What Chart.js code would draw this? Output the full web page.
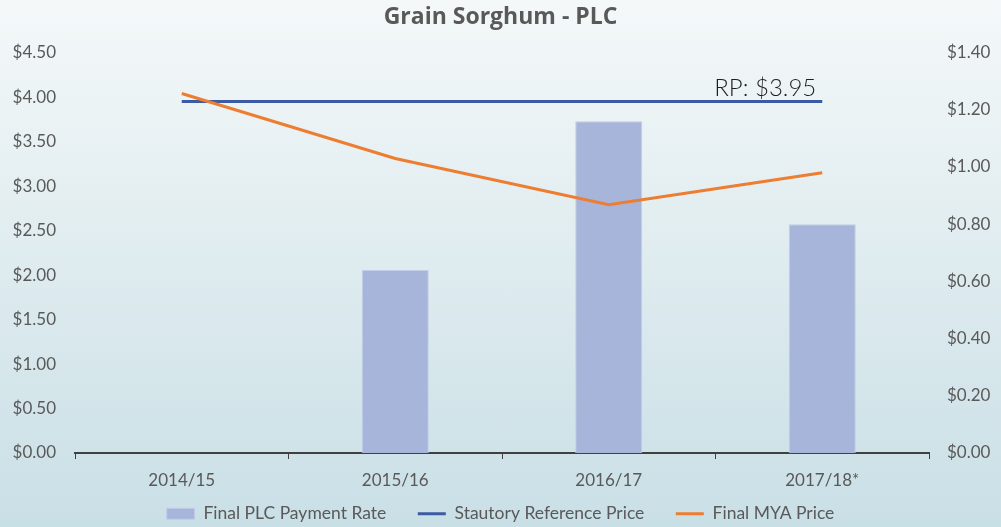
<!DOCTYPE html>
<html>
<head>
<meta charset="utf-8">
<script src="https://cdn.jsdelivr.net/npm/chart.js@4.4.1/dist/chart.umd.min.js"></script>
<style>
  html, body { margin: 0; padding: 0; }
  body {
    width: 1001px; height: 527px; overflow: hidden;
    background: linear-gradient(to bottom, #f4f8f9 0%, #e3eef1 40%, #c9dfe6 100%);
  }
  #wrap { position: relative; width: 1001px; height: 527px; }
</style>
</head>
<body>
<div id="wrap"><canvas id="chart"></canvas></div>
<script>
  // ── Data ───────────────────────────────────────────────
  const years       = ['2014/15', '2015/16', '2016/17', '2017/18*'];
  const paymentRate = [null, 0.64, 1.16, 0.80];   // right axis
  const refPrice    = [3.95, 3.95, 3.95, 3.95];   // left axis
  const myaPrice    = [4.04, 3.31, 2.79, 3.15];   // left axis
  const refLabel    = 'RP: $3.95';

  const TXT    = '#595959';
  const BLUE   = '#3b5ba5';
  const ORANGE = '#ed7d31';
  const BAR    = '#a7b5da';
  const FONT   = "Lato, 'Open Sans', sans-serif";

  Chart.defaults.font.family = FONT;
  Chart.defaults.color = TXT;

  // label "RP: $3.95" over the end of the reference line
  const rpLabel = {
    id: 'rpLabel',
    afterDatasetsDraw(chart) {
      const meta = chart.getDatasetMeta(1);
      const pt = meta.data[meta.data.length - 1];
      if (!pt) return;
      const ctx = chart.ctx;
      ctx.save();
      ctx.font = '300 24px ' + FONT;
      ctx.fillStyle = '#1e1e1e';
      ctx.textAlign = 'right';
      ctx.textBaseline = 'alphabetic';
      ctx.fillText(refLabel, pt.x - 6, pt.y - 6);
      ctx.restore();
    }
  };

  // default legend items, with a bit of extra room after the first two
  const legendItems = chart => {
    const items = Chart.defaults.plugins.legend.labels.generateLabels(chart);
    items.forEach(it => {
      if (it.datasetIndex < 2) it.text = it.text + '\u2002\u2002';
    });
    return items;
  };

  new Chart(document.getElementById('chart'), {
    type: 'bar',
    data: {
      labels: years,
      datasets: [
        {
          type: 'bar',
          label: 'Final PLC Payment Rate',
          data: paymentRate,
          yAxisID: 'y1',
          backgroundColor: BAR,
          borderColor: '#c3cde8',
          borderWidth: 1,
          barPercentage: 0.314,
          categoryPercentage: 1,
          pointStyle: 'rect',
          order: 3
        },
        {
          type: 'line',
          label: 'Stautory Reference Price',
          data: refPrice,
          yAxisID: 'y',
          borderColor: BLUE,
          backgroundColor: BLUE,
          borderWidth: 3,
          pointRadius: 0,
          pointStyle: 'line',
          order: 2
        },
        {
          type: 'line',
          label: 'Final MYA Price',
          data: myaPrice,
          yAxisID: 'y',
          borderColor: ORANGE,
          backgroundColor: ORANGE,
          borderWidth: 3,
          pointRadius: 0,
          pointStyle: 'line',
          order: 1
        }
      ]
    },
    options: {
      responsive: true,
      maintainAspectRatio: false,
      animation: false,
      layout: { padding: 0 },
      scales: {
        x: {
          offset: true,
          grid: { display: true, offset: true, drawOnChartArea: false, color: '#404040', tickLength: 6, lineWidth: 1 },
          border: { display: true, color: '#404040', width: 2 },
          ticks: { color: TXT, font: { size: 17 }, padding: 11 },
          afterFit: s => { s.height = 38; }
        },
        y: {
          position: 'left',
          min: 0, max: 4.5,
          grid: { display: false },
          border: { display: false },
          ticks: {
            stepSize: 0.5, color: TXT, font: { size: 17 }, padding: 11,
            callback: v => '$' + v.toFixed(2)
          },
          afterFit: s => { s.width = 75; }
        },
        y1: {
          position: 'right',
          min: 0, max: 1.4,
          grid: { display: false },
          border: { display: false },
          ticks: {
            stepSize: 0.2, color: TXT, font: { size: 17 }, padding: 10,
            callback: v => '$' + v.toFixed(2)
          },
          afterFit: s => { s.width = 72; }
        }
      },
      plugins: {
        title: {
          display: true,
          text: 'Grain Sorghum - PLC',
          color: TXT,
          font: { family: "'Open Sans', sans-serif", size: 23, weight: 'bold' },
          padding: { top: 4, bottom: 21 }
        },
        legend: {
          display: true,
          position: 'bottom',
          maxHeight: 36,
          labels: {
            color: TXT,
            font: { size: 17.5 },
            usePointStyle: true,
            pointStyleWidth: 28,
            boxHeight: 11,
            padding: 14,
            sort: (a, b) => a.datasetIndex - b.datasetIndex,
            generateLabels: legendItems
          }
        },
        tooltip: { enabled: false }
      }
    },
    plugins: [rpLabel]
  });
</script>
</body>
</html>
